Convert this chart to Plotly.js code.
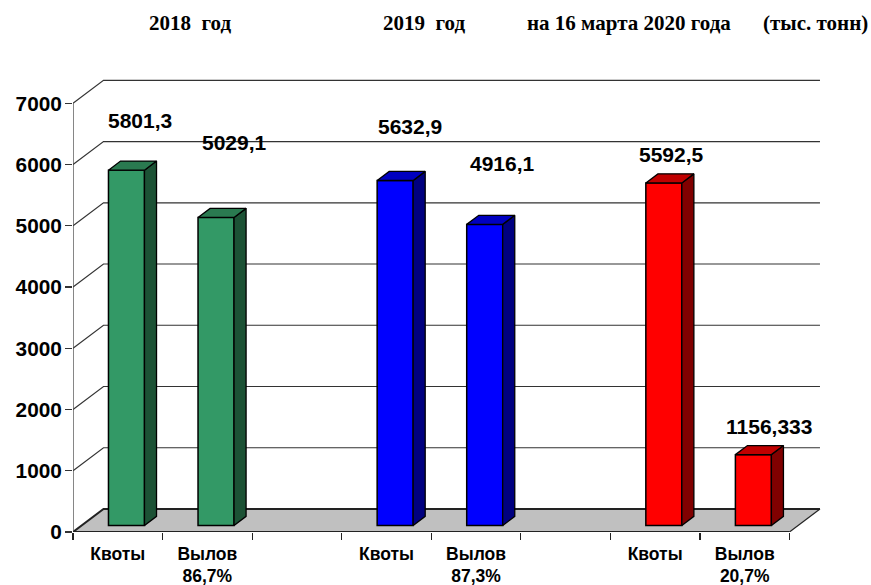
<!DOCTYPE html>
<html>
<head>
<meta charset="utf-8">
<script src="https://cdn.plot.ly/plotly-3.0.1.min.js"></script>
<style>html,body{margin:0;padding:0;background:#fff}#chart{width:871px;height:585px}</style>
</head>
<body>
<div id="chart"></div>
<script>
// ---- data ----
const categoryLabels = ['Квоты', 'Вылов<br>86,7%', '', 'Квоты', 'Вылов<br>87,3%', '', 'Квоты', 'Вылов<br>20,7%'];
const barSlots = [0, 1, 3, 4, 6, 7];
const barValues = [5801.3, 5029.1, 5632.9, 4916.1, 5592.5, 1156.333];
const barLabels = ['5801,3', '5029,1', '5632,9', '4916,1', '5592,5', '1156,333'];
const yTicks = [0, 1000, 2000, 3000, 4000, 5000, 6000, 7000];
const headers = ['2018  год', '2019  год', 'на 16 марта 2020 года', '(тыс. тонн)'];

// ---- styling ----
const frontColors = ['#339966', '#339966', '#0000ff', '#0000ff', '#ff0000', '#ff0000'];
const topColors = ['#2a7a50', '#2a7a50', '#0000c0', '#0000c0', '#c00000', '#c00000'];
const sideColors = ['#1c5235', '#1c5235', '#000080', '#000080', '#800000', '#800000'];
const labelShiftX = [22, 27, 24, 26, 16, 24];
const labelShiftY = [56, 82, 61, 67, 35, 35];
const headerPx = [190, 424, 629, 815];

// ---- pseudo-3D projection, expressed in axis units ----
const depthX = 0.3406, depthY = 375.8;      // full floor depth
const nearD = 0.285, farD = 0.68;           // bar position in depth
const barW = 0.402;
const slotCount = categoryLabels.length;
const proj = (x, y, d) => [x + d * depthX, y + d * depthY];
const pathOf = pts => 'M' + pts.map(p => p[0] + ',' + p[1]).join('L');

const L = 73, R = 45, T = 76, B = 53.3;
const xMax = (871 - R - L) / 89.56, yMax = (585 - B - T) / 0.0612;

// wall + floor, behind the bars
const shapes = [{
  type: 'path', layer: 'below', xref: 'x', yref: 'y',
  path: pathOf([proj(0, 0, 0), proj(0, 0, 1), proj(slotCount, 0, 1), proj(slotCount, 0, 0)]) + 'Z',
  fillcolor: '#c0c0c0', line: {width: 0}
}];
yTicks.forEach(v => {
  shapes.push({
    type: 'path', layer: 'below', xref: 'x', yref: 'y',
    path: pathOf([proj(0, v, 0), proj(0, v, 1), proj(slotCount, v, 1)]),
    line: {color: v === 0 ? '#222222' : '#333333', width: v === 0 ? 2 : 1.2}
  });
});
shapes.push({
  type: 'path', layer: 'below', xref: 'x', yref: 'y',
  path: pathOf([proj(slotCount, 0, 0), proj(slotCount, 0, 1)]),
  line: {color: '#222222', width: 1.2}
});

// front faces as a real bar trace
const centres = barSlots.map(s => proj(s + 0.5, 0, nearD)[0]);
const baseY = proj(0, 0, nearD)[1];
const traces = [{
  type: 'bar', x: centres, y: barValues, base: baseY, width: barW,
  marker: {color: frontColors, line: {color: '#000000', width: 1.5}},
  hoverinfo: 'skip', showlegend: false
}];

// top + side faces
barValues.forEach((v, i) => {
  const x0 = centres[i] - barW / 2, x1 = centres[i] + barW / 2, yT = baseY + v;
  const dd = farD - nearD;
  const side = [[x1, baseY], [x1, yT], proj(x1, yT, dd), proj(x1, baseY, dd), [x1, baseY]];
  const top = [[x0, yT], [x1, yT], proj(x1, yT, dd), proj(x0, yT, dd), [x0, yT]];
  [[side, sideColors[i]], [top, topColors[i]]].forEach(([pts, col]) => {
    traces.push({
      type: 'scatter', mode: 'lines', x: pts.map(p => p[0]), y: pts.map(p => p[1]),
      fill: 'toself', fillcolor: col, line: {color: '#000000', width: 1.3},
      hoverinfo: 'skip', showlegend: false
    });
  });
});

// front axis lines
traces.push({type: 'scatter', mode: 'lines', x: [0, 0], y: [0, yTicks[yTicks.length - 1]],
  line: {color: '#444444', width: 1.3}, cliponaxis: false, hoverinfo: 'skip', showlegend: false});
traces.push({type: 'scatter', mode: 'lines', x: [0, slotCount], y: [0, 0],
  line: {color: '#222222', width: 2}, cliponaxis: false, hoverinfo: 'skip', showlegend: false});

const annotations = barLabels.map((t, i) => ({
  text: '<b>' + t + '</b>', xref: 'x', yref: 'y', x: barSlots[i] + 0.5, y: barValues[i],
  xshift: labelShiftX[i], yshift: labelShiftY[i], showarrow: false,
  xanchor: 'center', yanchor: 'middle',
  font: {family: 'Liberation Sans, Arial, sans-serif', size: 21, color: '#000'}
})).concat(headers.map((t, i) => ({
  text: '<b>' + t + '</b>', xref: 'paper', yref: 'paper', x: (headerPx[i] - L) / (871 - L - R), y: 1,
  yshift: 53, showarrow: false, xanchor: 'center', yanchor: 'middle',
  font: {family: 'Liberation Serif, Times New Roman, serif', size: 21, color: '#000'}
})));

const slotTicks = categoryLabels.map((_, i) => i + 0.5);
const slotEdges = Array.from({length: slotCount + 1}, (_, i) => i);

const layout = {
  width: 871, height: 585, autosize: false,
  paper_bgcolor: '#ffffff', plot_bgcolor: '#ffffff',
  margin: {l: L, r: R, t: T, b: B, pad: 0},
  showlegend: false, bargap: 0,
  xaxis: {
    range: [0, xMax], showgrid: false, zeroline: false, showline: false, fixedrange: true,
    tickmode: 'array', tickvals: slotTicks, ticktext: categoryLabels, ticks: '', tickangle: 0,
    ticklabelstandoff: 9,
    tickfont: {family: 'Liberation Sans, Arial, sans-serif', size: 17.5, color: '#000', weight: 700},
    minor: {tickmode: 'array', tickvals: slotEdges, ticks: 'outside', ticklen: 7, tickwidth: 1.2, tickcolor: '#222222', showgrid: false}
  },
  yaxis: {
    range: [0, yMax], showgrid: false, zeroline: false, showline: false, fixedrange: true,
    tickmode: 'array', tickvals: yTicks, ticktext: yTicks.map(String),
    ticks: 'outside', ticklen: 7, tickwidth: 1.2, tickcolor: '#333333',
    ticklabelstandoff: -1,
    tickfont: {family: 'Liberation Sans, Arial, sans-serif', size: 20.8, color: '#000', weight: 700}
  },
  shapes, annotations
};
Plotly.newPlot('chart', traces, layout, {displayModeBar: false, staticPlot: true});
</script>
</body>
</html>
